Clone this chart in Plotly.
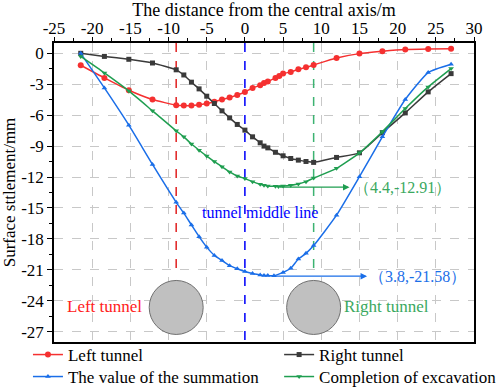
import plotly.graph_objects as go

# Distance from central axis (m)
x_left = [-21.5, -18.4, -15.2, -12.1, -9, -8, -7, -6, -5, -4, -3, -2, -1, 0, 1, 2, 2.5, 3, 4, 4.5, 5, 6, 7, 8, 9, 12, 15, 18, 21, 24, 27]
y_left = [-1.16, -2.39, -3.58, -4.48, -5.03, -5.07, -5.07, -5.0, -4.87, -4.7, -4.48, -4.29, -4.05, -3.75, -3.36, -3.1, -2.87, -2.74, -2.39, -2.2, -1.97, -1.81, -1.55, -1.36, -1.13, -0.45, -0.03, 0.19, 0.36, 0.42, 0.45]

x_right = [-21.5, -18.4, -15.2, -12.1, -9, -8, -7, -6, -5, -4, -3, -2, -1, 0, 1, 2, 2.5, 3, 4, 5, 6, 7, 8, 9, 12, 15, 18, 21, 24, 27]
y_right = [0.0, -0.3, -0.58, -0.94, -1.6, -2.1, -2.8, -3.45, -4.16, -4.87, -5.58, -6.26, -6.9, -7.45, -8.1, -8.68, -9.0, -9.17, -9.6, -9.94, -10.2, -10.36, -10.49, -10.58, -10.1, -9.65, -7.7, -5.78, -3.74, -1.97]

x_sum = [-21.5, -18.4, -15.2, -12.1, -9, -8, -7, -6, -5, -4, -3, -2, -1, 0, 1, 2, 2.5, 3, 3.8, 5, 6, 7, 8, 9, 12, 15, 18, 21, 24, 27]
y_sum = [0.0, -3.36, -6.97, -10.78, -14.45, -15.5, -16.65, -17.78, -18.8, -19.6, -20.1, -20.6, -20.9, -21.17, -21.36, -21.49, -21.55, -21.56, -21.58, -21.25, -20.85, -19.95, -19.4, -18.65, -15.7, -11.97, -8.1, -4.48, -1.87, -1.07]

x_exc = [-21.5, -18.4, -15.2, -12.1, -9, -8, -7, -6, -5, -4, -3, -2, -1, 0, 1, 2, 2.5, 3, 4, 4.4, 5, 6, 7, 8, 9, 12, 15, 18, 21, 24, 27]
y_exc = [-0.3, -1.9, -3.65, -5.58, -7.52, -8.1, -8.8, -9.4, -9.97, -10.5, -11.0, -11.5, -11.9, -12.15, -12.45, -12.7, -12.8, -12.86, -12.9, -12.91, -12.88, -12.8, -12.68, -12.45, -12.1, -11.16, -9.65, -7.6, -5.36, -3.26, -1.48]

x_ticks = [-25, -20, -15, -10, -5, 0, 5, 10, 15, 20, 25, 30]
y_ticks = [0, -3, -6, -9, -12, -15, -18, -21, -24, -27]

tunnel_x = [-9, 9]
tunnel_y = -24.65

FONT = "Liberation Serif, Times New Roman, serif"
RED = "#f53030"
BLACK = "#3a3a3a"
BLUE = "#1a6ee8"
GREEN = "#1f9e50"

fig = go.Figure()
fig.add_trace(go.Scatter(x=x_left, y=y_left, name="Left tunnel", mode="lines+markers", legend="legend",
                         line=dict(color=RED, width=1.5, shape="spline", smoothing=0.5),
                         marker=dict(symbol="circle", size=6, color=RED)))
fig.add_trace(go.Scatter(x=x_right, y=y_right, name="Right tunnel", mode="lines+markers", legend="legend2",
                         line=dict(color=BLACK, width=1.5, shape="spline", smoothing=0.5),
                         marker=dict(symbol="square", size=5, color=BLACK)))
fig.add_trace(go.Scatter(x=x_sum, y=y_sum, name="The value of the summation", mode="lines+markers", legend="legend3",
                         line=dict(color=BLUE, width=1.5, shape="spline", smoothing=0.5),
                         marker=dict(symbol="triangle-up", size=5, color=BLUE)))
fig.add_trace(go.Scatter(x=x_exc, y=y_exc, name="Completion of excavation", mode="lines+markers", legend="legend4",
                         line=dict(color=GREEN, width=1.5, shape="spline", smoothing=0.5),
                         marker=dict(symbol="triangle-down", size=5, color=GREEN)))

shapes = []
shapes.append(dict(type="line", xref="x", yref="y", x0=-9, x1=-9, y0=1, y1=-21,
                   line=dict(color="#e02020", width=1.5, dash="dash"), layer="between"))
shapes.append(dict(type="line", xref="x", yref="y", x0=9, x1=9, y0=1, y1=-21,
                   line=dict(color="#3cb371", width=1.5, dash="dash"), layer="between"))
shapes.append(dict(type="line", xref="x", yref="y", x0=0, x1=0, y0=1, y1=-28,
                   line=dict(color="#0000ff", width=1.5, dash="dash"), layer="between"))
for tx in tunnel_x:
    shapes.append(dict(type="circle", xref="x", yref="y", xsizemode="pixel", ysizemode="pixel",
                       xanchor=tx, yanchor=tunnel_y, x0=-27, x1=27, y0=-27, y1=27,
                       fillcolor="#c0c0c0", line=dict(color="#707070", width=1)))

annotations = [
    dict(x=13.7, y=-12.98, ax=4.4, ay=-12.98, xref="x", yref="y", axref="x", ayref="y",
         text="", showarrow=True, arrowhead=2, arrowsize=1, arrowwidth=1.3, arrowcolor=GREEN),
    dict(x=14.0, y=-12.98, xref="x", yref="y", text="（4.4,-12.91）", showarrow=False,
         xanchor="left", font=dict(family=FONT, size=16, color="#3aa860")),
    dict(x=16.0, y=-21.62, ax=3.8, ay=-21.62, xref="x", yref="y", axref="x", ayref="y",
         text="", showarrow=True, arrowhead=2, arrowsize=1, arrowwidth=1.3, arrowcolor=BLUE),
    dict(x=16.0, y=-21.62, xref="x", yref="y", text="（3.8,-21.58）", showarrow=False,
         xanchor="left", font=dict(family=FONT, size=16, color=BLUE)),
    dict(x=2.0, y=-15.45, xref="x", yref="y", text="tunnel middle line", showarrow=False,
         font=dict(family=FONT, size=16, color="#0000ff")),
    dict(x=-18.4, y=-24.55, xref="x", yref="y", text="Left tunnel", showarrow=False,
         font=dict(family=FONT, size=17, color="#ff2020")),
    dict(x=18.5, y=-24.55, xref="x", yref="y", text="Right tunnel", showarrow=False,
         font=dict(family=FONT, size=17, color="#3aa860")),
]

leg_common = dict(orientation="v", xanchor="left", yanchor="middle", tracegroupgap=0,
                  font=dict(family=FONT, size=17, color="black"), bgcolor="rgba(0,0,0,0)")
col1, col2 = -0.062, 0.536
row1, row2 = -0.0435, -0.117

fig.update_layout(
    width=498, height=387,
    margin=dict(l=54, r=24, t=43, b=45, autoexpand=False),
    plot_bgcolor="white", paper_bgcolor="white",
    font=dict(family=FONT, size=17, color="black"),
    shapes=shapes, annotations=annotations,
    showlegend=True,
    legend=dict(x=col1, y=row1, **leg_common),
    legend2=dict(x=col2, y=row1, **leg_common),
    legend3=dict(x=col1, y=row2, **leg_common),
    legend4=dict(x=col2, y=row2, **leg_common),
)
fig.update_xaxes(range=[-25, 30], side="top", tickvals=x_ticks, ticktext=[str(v) for v in x_ticks],
                 ticks="outside", ticklen=4, tickwidth=1.2, tickcolor="black", ticklabelstandoff=-4,
                 minor=dict(dtick=2.5, ticks="outside", ticklen=3, tickcolor="black", showgrid=False),
                 showline=True, linecolor="black", linewidth=1.5, mirror=True,
                 showgrid=True, gridcolor="#c8c8c8", griddash="dash", gridwidth=1, zeroline=False,
                 title=dict(text="The distance from the central axis/m", font=dict(size=18), standoff=2),
                 tickfont=dict(size=17))
fig.update_yaxes(range=[-28, 1], tickvals=y_ticks, ticktext=[str(v) for v in y_ticks],
                 ticks="outside", ticklen=5, tickwidth=1.2, tickcolor="black",
                 minor=dict(dtick=1.5, tick0=0, ticks="outside", ticklen=3, tickcolor="black", showgrid=False),
                 showline=True, linecolor="black", linewidth=1.5, mirror=True,
                 showgrid=True, gridcolor="#c8c8c8", griddash="dash", gridwidth=1, zeroline=False,
                 title=dict(text="Surface sttlement/mm", font=dict(size=17), standoff=3),
                 tickfont=dict(size=17))

fig.write_html("out.html", config={"displayModeBar": False},
               post_script="document.body.style.margin='0px';")
